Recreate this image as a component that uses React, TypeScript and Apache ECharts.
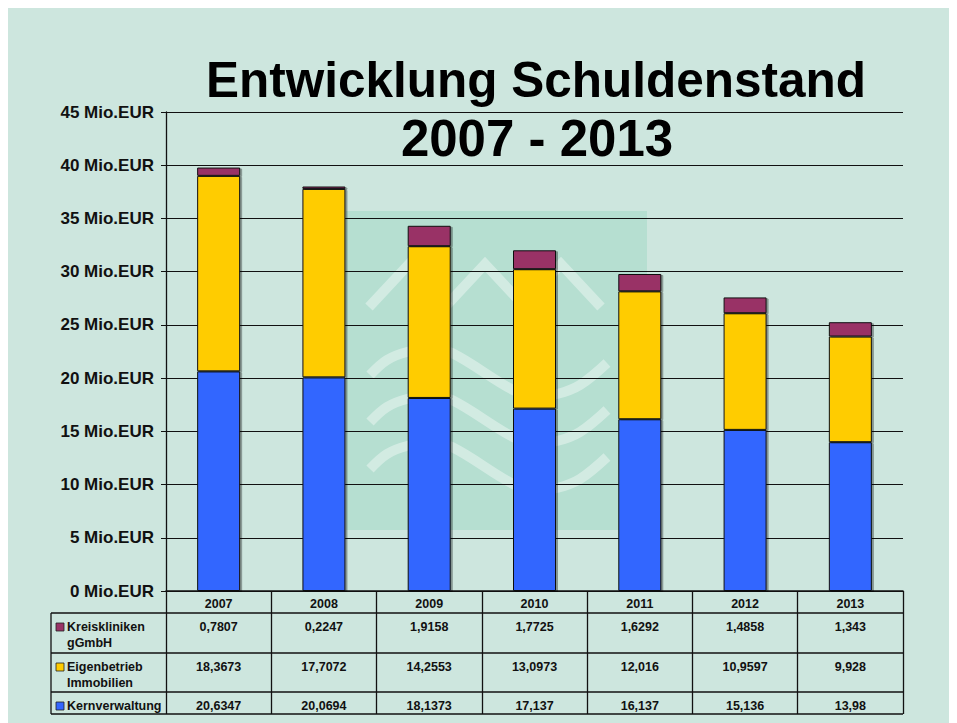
import React, { useEffect, useRef } from "react";
import * as echarts from "echarts";

const years = ["2007", "2008", "2009", "2010", "2011", "2012", "2013"];
const kernverwaltung = [20.6347, 20.0694, 18.1373, 17.137, 16.137, 15.136, 13.98];
const eigenbetrieb = [18.3673, 17.7072, 14.2553, 13.0973, 12.016, 10.9597, 9.928];
const kreiskliniken = [0.7807, 0.2247, 1.9158, 1.7725, 1.6292, 1.4858, 1.343];
const yMin = 0;
const yMax = 45;
const yInterval = 5;
const titleLines = ["Entwicklung Schuldenstand", "2007 - 2013"];

const COLORS = { kern: "#3366FF", eigen: "#FFCC00", klinik: "#993366" };
const FONT = '"Liberation Sans", Arial, sans-serif';

const tableRows = [
  { label: ["Kreiskliniken", "gGmbH"], color: COLORS.klinik, values: kreiskliniken },
  { label: ["Eigenbetrieb", "Immobilien"], color: COLORS.eigen, values: eigenbetrieb },
  { label: ["Kernverwaltung"], color: COLORS.kern, values: kernverwaltung },
];

const fmt = (v: number) => String(v).replace(".", ",");

export default function App() {
  const ref = useRef<HTMLDivElement>(null);
  useEffect(() => {
    if (!ref.current) return;
    const chart = echarts.init(ref.current, null, { renderer: "svg" });
    const barStyle = (color: string) => ({
      color,
      borderColor: "#111",
      borderWidth: 1,
      shadowColor: "rgba(0,0,0,0.35)",
      shadowOffsetX: 2,
      shadowOffsetY: 1,
      shadowBlur: 0,
    });
    chart.setOption({
      animation: false,
      backgroundColor: "transparent",
      grid: { left: 158, right: 54, top: 104, bottom: 132 },
      xAxis: {
        type: "category",
        data: years,
        axisLine: { lineStyle: { color: "#111", width: 1.5 } },
        axisTick: { show: true, length: 123, lineStyle: { color: "#111", width: 1.3 } },
        axisLabel: {
          margin: 6,
          fontFamily: FONT,
          fontWeight: "bold",
          fontSize: 12.5,
          color: "#111",
        },
      },
      yAxis: {
        type: "value",
        min: yMin,
        max: yMax,
        interval: yInterval,
        axisLine: { show: true, lineStyle: { color: "#111", width: 1.3 } },
        axisTick: { show: true, length: 5, lineStyle: { color: "#111" } },
        splitLine: { lineStyle: { color: "#111", width: 1.2 } },
        axisLabel: {
          formatter: "{value} Mio.EUR",
          margin: 12,
          fontFamily: FONT,
          fontWeight: "bold",
          fontSize: 17,
          color: "#111",
        },
      },
      series: [
        { name: "Kernverwaltung", type: "bar", stack: "s", barWidth: 43, data: kernverwaltung, itemStyle: barStyle(COLORS.kern) },
        { name: "Eigenbetrieb Immobilien", type: "bar", stack: "s", barWidth: 43, data: eigenbetrieb, itemStyle: barStyle(COLORS.eigen) },
        { name: "Kreiskliniken gGmbH", type: "bar", stack: "s", barWidth: 43, data: kreiskliniken, itemStyle: barStyle(COLORS.klinik) },
      ],
    });

    const x0 = chart.convertToPixel({ xAxisIndex: 0 }, years[0]) as number;
    const x1 = chart.convertToPixel({ xAxisIndex: 0 }, years[1]) as number;
    const catW = x1 - x0;
    const left = x0 - catW / 2;
    const right = left + catW * years.length;
    const axisY = chart.convertToPixel({ yAxisIndex: 0 }, 0) as number;

    const headerB = axisY + 22;
    const rowB = [headerB + 40, headerB + 79, headerB + 101];
    const labelLeft = 43;
    const lineStyle = { stroke: "#111", lineWidth: 1.3 };
    const els: any[] = [];

    // watermark
    els.push({ type: "rect", z: -1, silent: true, shape: { x: 338, y: 203, width: 301, height: 319 }, style: { fill: "#b6dfd1" } });
    const wm = { stroke: "rgba(255,255,255,0.38)", lineWidth: 10, fill: null, lineJoin: "miter" };
    [401, 477, 553].forEach((px) => {
      els.push({ type: "polyline", z: -1, silent: true, shape: { points: [[px - 40, 299], [px, 256], [px + 40, 299]] }, style: wm });
    });
    [0, 47, 94].forEach((dy) => {
      const pts = [[362, 367], [379, 352], [399, 344], [422, 341], [444, 345], [505, 382], [527, 388], [549, 386], [572, 377], [599, 355]].map((p) => [p[0], p[1] + dy]);
      els.push({ type: "polyline", z: -1, silent: true, shape: { points: pts, smooth: 0.35 }, style: wm });
    });

    // title
    els.push({ type: "text", z: 20, x: 528, y: 71, style: { text: titleLines[0], font: `bold 49.5px ${FONT}`, fill: "#000", textAlign: "center", textVerticalAlign: "middle" } });
    els.push({ type: "text", z: 20, x: 529, y: 130, style: { text: titleLines[1], font: `bold 51px ${FONT}`, fill: "#000", textAlign: "center", textVerticalAlign: "middle" } });

    // table lines
    [headerB, rowB[0], rowB[1], rowB[2]].forEach((y) => {
      els.push({ type: "line", z: 10, shape: { x1: labelLeft, y1: y, x2: right, y2: y }, style: lineStyle });
    });
    els.push({ type: "line", z: 10, shape: { x1: labelLeft, y1: headerB, x2: labelLeft, y2: rowB[2] }, style: lineStyle });

    const rowTops = [headerB, rowB[0], rowB[1]];
    tableRows.forEach((row, ri) => {
      const top = rowTops[ri];
      els.push({ type: "rect", z: 10, shape: { x: 48, y: top + 10, width: 8, height: 8 }, style: { fill: row.color, stroke: "#222", lineWidth: 0.8 } });
      row.label.forEach((t, li) => {
        els.push({ type: "text", z: 10, x: 59, y: top + 14 + li * 15.5, style: { text: t, font: `bold 12.5px ${FONT}`, fill: "#111", textAlign: "left", textVerticalAlign: "middle" } });
      });
      row.values.forEach((v, ci) => {
        els.push({ type: "text", z: 10, x: left + catW * (ci + 0.5), y: top + 13.5, style: { text: fmt(v), font: `bold 12.5px ${FONT}`, fill: "#111", textAlign: "center", textVerticalAlign: "middle" } });
      });
    });

    chart.setOption({ graphic: els });
    return () => chart.dispose();
  }, []);
  return <div ref={ref} style={{ width: 949, height: 715, background: "#cde6de" }} />;
}
